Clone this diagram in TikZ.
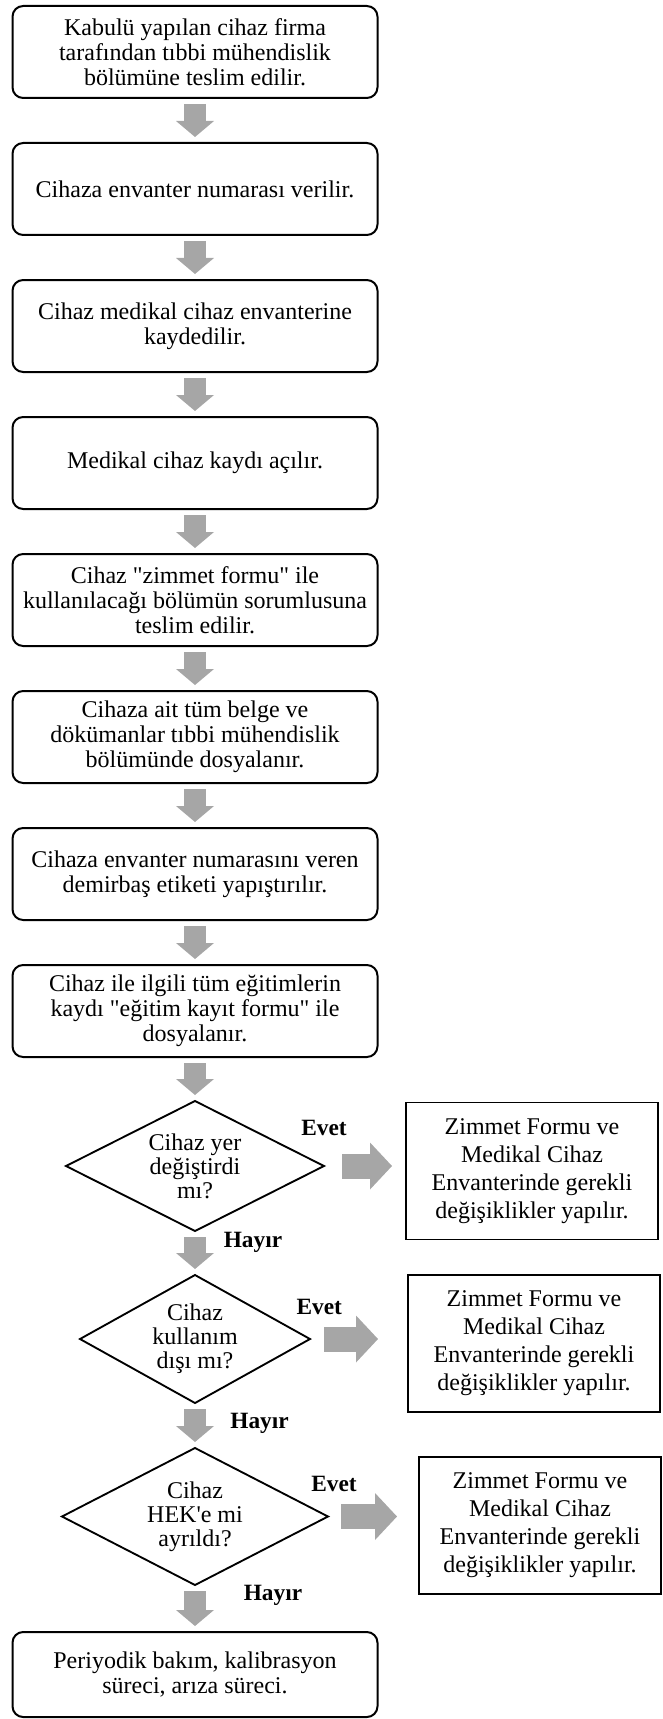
\documentclass[tikz,border=0pt]{standalone}
\usepackage{fontspec}
\setmainfont{Liberation Serif}
\usetikzlibrary{positioning, arrows.meta, shapes.geometric, calc}
\definecolor{arrowgray}{HTML}{A6A6A6}

\begin{document}
\begin{tikzpicture}[
    node distance=33.75pt,
    stepbox/.style={draw, line width=1.5pt, rounded corners=8pt,
                    minimum width=273.75pt, minimum height=69pt,
                    outer sep=0pt, align=center,
                    font=\fontsize{18}{18.75}\selectfont},
    askbox/.style={diamond, draw, line width=1.4pt, aspect=2,
                   inner sep=0pt, outer sep=0pt, align=center,
                   font=\fontsize{18}{18}\selectfont},
    notebox/.style={draw, line width=0.9pt, minimum width=189pt,
                    minimum height=102.75pt, outer sep=0pt, align=center,
                    font=\fontsize{18}{21}\selectfont},
    answer/.style={font=\fontsize{17.5}{18}\selectfont\bfseries,
                   inner sep=0pt},
    downarrow/.style={arrowgray, line width=16.5pt,
                      -{Triangle[length=12pt, width=28.5pt, line width=0pt]},
                      shorten <=4.5pt, shorten >=4.5pt},
    rightarrow/.style={arrowgray, line width=18.75pt,
                       -{Triangle[length=16.5pt, width=35.25pt, line width=0pt]}},
]
\useasboundingbox (0,0) rectangle (496.5pt,-1289.25pt);

% === Main steps ===
\node[stepbox] (b1) at (146.25pt,-39pt) {Kabulü yapılan cihaz firma\\
  tarafından tıbbi mühendislik\\bölümüne teslim edilir.};
\node[stepbox, below=of b1] (b2) {Cihaza envanter numarası verilir.};
\node[stepbox, below=of b2] (b3) {Cihaz medikal cihaz envanterine\\
  kaydedilir.};
\node[stepbox, below=of b3] (b4) {Medikal cihaz kaydı açılır.};
\node[stepbox, below=of b4] (b5) {Cihaz \textquotedbl zimmet formu\textquotedbl{} ile\\
  kullanılacağı bölümün sorumlusuna\\teslim edilir.};
\node[stepbox, below=of b5] (b6) {Cihaza ait tüm belge ve\\
  dökümanlar tıbbi mühendislik\\bölümünde dosyalanır.};
\node[stepbox, below=of b6] (b7) {Cihaza envanter numarasını veren\\
  demirbaş etiketi yapıştırılır.};
\node[stepbox, below=of b7] (b8) {Cihaz ile ilgili tüm eğitimlerin\\
  kaydı \textquotedbl eğitim kayıt formu\textquotedbl{} ile\\dosyalanır.};

% === Questions ===
\node[askbox, below=33pt of b8, minimum width=193.5pt,
      minimum height=97.5pt] (d1) {Cihaz yer\\değiştirdi\\mı?};
\node[askbox, below=33pt of d1, minimum width=172.5pt,
      minimum height=96pt] (d2) {Cihaz\\kullanım\\dışı mı?};
\node[askbox, below=33.75pt of d2, minimum width=199.5pt,
      minimum height=102.75pt] (d3) {Cihaz\\HEK\textquotesingle e mi\\ayrıldı?};

% === Last step ===
\node[stepbox, below=35.25pt of d3, minimum height=63.75pt] (b9) {
  Periyodik bakım, kalibrasyon\\süreci, arıza süreci.};

% === Side notes ===
\node[notebox, right=61.5pt of d1, yshift=-4pt] (r1) {Zimmet Formu ve\\
  Medikal Cihaz\\Envanterinde gerekli\\değişiklikler yapılır.};
\node[notebox, right=73.5pt of d2, yshift=-3.4pt] (r2) {Zimmet Formu ve\\
  Medikal Cihaz\\Envanterinde gerekli\\değişiklikler yapılır.};
\node[notebox, right=68.25pt of d3, yshift=-6.75pt,
      minimum width=181.5pt] (r3) {Zimmet Formu ve\\
  Medikal Cihaz\\Envanterinde gerekli\\değişiklikler yapılır.};

% === Answers ===
\node[answer] (e1) at ($(d1.east)+(0pt,28.5pt)$) {Evet};
\node[answer] (e2) at ($(d2.east)+(7pt,24pt)$) {Evet};
\node[answer] (e3) at ($(d3.east)+(4.5pt,24.75pt)$) {Evet};
\node[answer] (h1) at ($(d1.south)+(43.5pt,-8.25pt)$) {Hayır};
\node[answer] (h2) at ($(d2.south)+(48.4pt,-15pt)$) {Hayır};
\node[answer] (h3) at ($(d3.south)+(58.5pt,-7.5pt)$) {Hayır};

% === Arrows ===
\draw[downarrow] (b1) -- (b2);
\draw[downarrow] (b2) -- (b3);
\draw[downarrow] (b3) -- (b4);
\draw[downarrow] (b4) -- (b5);
\draw[downarrow] (b5) -- (b6);
\draw[downarrow] (b6) -- (b7);
\draw[downarrow] (b7) -- (b8);
\draw[downarrow] (b8) -- (d1);
\draw[downarrow] (d1) -- (d2);
\draw[downarrow] (d2) -- (d3);
\draw[downarrow] (d3) -- (b9);

% Evet arrows
\draw[rightarrow, shorten <=13.5pt, shorten >=10.5pt]
  (d1.east) -- (d1.east -| r1.west);
\draw[rightarrow, shorten <=10.5pt, shorten >=22.5pt]
  (d2.east) -- (d2.east -| r2.west);
\draw[rightarrow, shorten <=9.75pt, shorten >=16.5pt]
  (d3.east) -- (d3.east -| r3.west);

\end{tikzpicture}
\end{document}
